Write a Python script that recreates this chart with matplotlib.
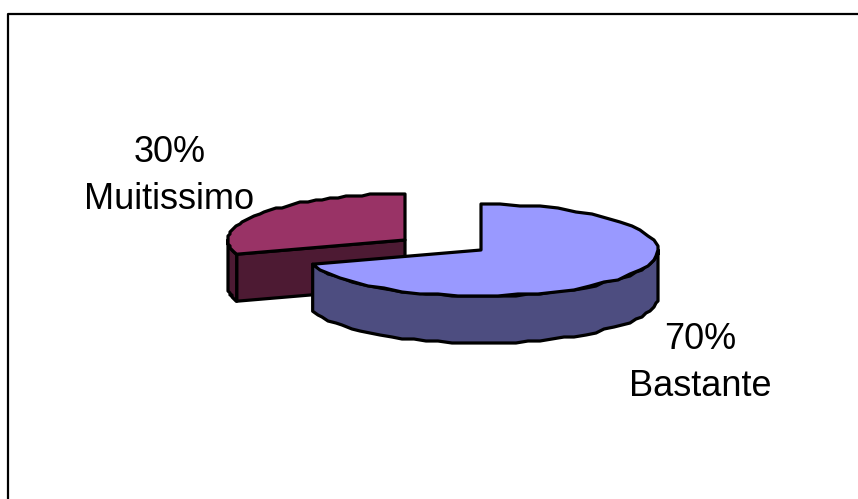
import numpy as np
import matplotlib
matplotlib.use("Agg")
import matplotlib.pyplot as plt
from matplotlib.patches import Polygon

labels = ["Bastante", "Muitissimo"]
shares = [70, 30]
top_colors = ["#9999FF", "#993366"]
side_colors = ["#4D4D80", "#4D1A33"]

# pie geometry in pixels
RX, RY = 177, 46
DEPTH = 47
centers = [(481, 250), (405, 240)]
START = 90


def rim(cx, cy, a0, a1, n=40):
    # coarse outline snapped to a 2 px grid, the two end points stay exact
    t = np.radians(np.linspace(a0, a1, n))
    x = cx + RX * np.cos(t)
    y = cy - RY * np.sin(t)
    pts = np.column_stack([np.round(x / 2) * 2, np.round(y / 2) * 2])
    pts[0] = [x[0], y[0]]
    pts[-1] = [x[-1], y[-1]]
    return pts


def draw_slice(ax, cx, cy, a0, a1, top, side, z):
    kw = dict(edgecolor="black", linewidth=2.3, joinstyle="round", zorder=z)
    pts = rim(cx, cy, a0, a1)
    down = np.array([0, DEPTH])
    # cut face, only the slice that ends on the left of centre shows one
    if a0 == START and a1 < 270:
        end = pts[-1]
        ax.add_patch(Polygon([(cx, cy), end, end + down, (cx, cy + DEPTH)],
                             facecolor=side, **kw))
    # outer wall: the stretch of rim facing the viewer (180 to 360 degrees)
    lo = max(a0, 180)
    hi = min(a1, 360)
    if lo < hi:
        wall = rim(cx, cy, lo, hi)
        ax.add_patch(Polygon(np.vstack([wall, (wall + down)[::-1]]),
                             facecolor=side, **kw))
    ax.add_patch(Polygon(np.vstack([[(cx, cy)], pts]), facecolor=top, **kw))


fig = plt.figure(figsize=(8.58, 4.99), dpi=100)
ax = fig.add_axes([0, 0, 1, 1])
ax.set_xlim(0, 858)
ax.set_ylim(499, 0)
ax.axis("off")

# chart frame, right and bottom sides run off the canvas
ax.plot([8, 8, 858], [499, 14, 14], color="black", linewidth=1.6, zorder=1)

# Muitissimo sits behind, running counter-clockwise from the top
sweep = shares[1] * 3.6
draw_slice(ax, *centers[1], START, START + sweep, top_colors[1], side_colors[1], 2)

# Bastante runs clockwise from the top, so it covers the rest of the circle
sweep = shares[0] * 3.6
draw_slice(ax, *centers[0], START + 360 - sweep, START + 360, top_colors[0], side_colors[0], 3)

font = ["Liberation Sans", "DejaVu Sans"]
ax.text(169.5, 176, f"{shares[1]}%\n{labels[1]}", ha="center", va="center", family=font,
        fontsize=26, color="black", linespacing=1.48, zorder=4)
ax.text(700, 363, f"{shares[0]}%\n{labels[0]}", ha="center", va="center", family=font,
        fontsize=26, color="black", linespacing=1.48, zorder=4)

fig.savefig("out.png", dpi=100, facecolor="white")
